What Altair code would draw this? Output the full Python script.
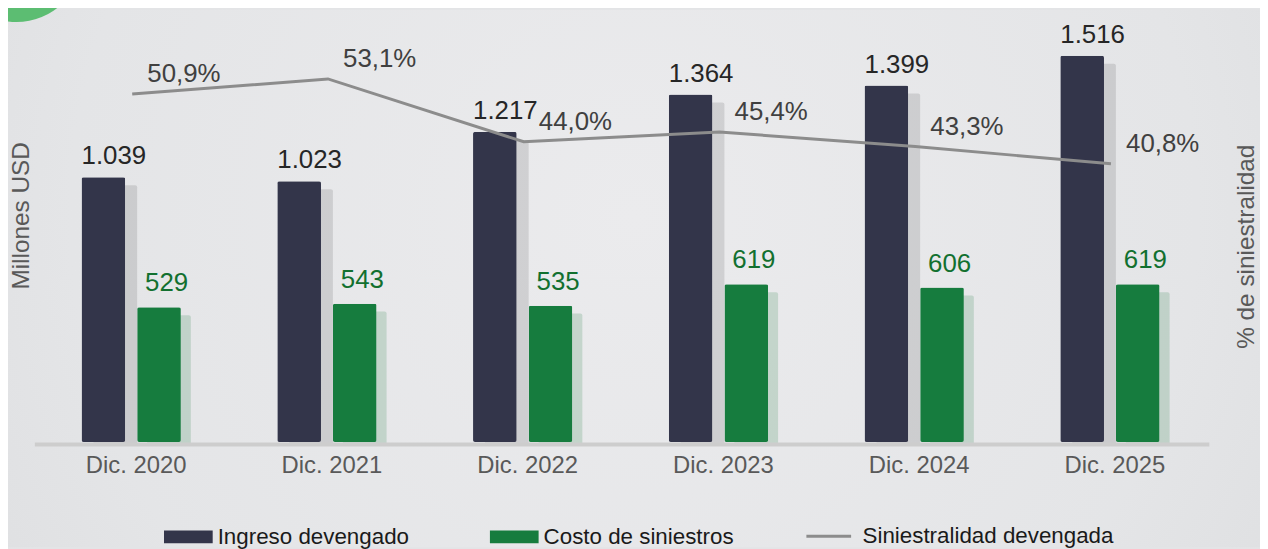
import altair as alt
import pandas as pd

# ---- data ----
periodos = ["Dic. 2020", "Dic. 2021", "Dic. 2022", "Dic. 2023", "Dic. 2024", "Dic. 2025"]
ingreso = [1039, 1023, 1217, 1364, 1399, 1516]
costo = [529, 543, 535, 619, 606, 619]
siniestralidad = [50.9, 53.1, 44.0, 45.4, 43.3, 40.8]

series_barras = ["Ingreso devengado", "Costo de siniestros"]
serie_linea = "Siniestralidad devengada"

df = pd.DataFrame({
    "periodo": periodos,
    "ingreso": ingreso,
    "costo": costo,
    "siniestralidad": siniestralidad,
})
one = pd.DataFrame({"k": [0]})

FONT = "Liberation Sans"
GRAY_TXT = "#595959"

PLOT_W, PLOT_H = 1182, 423
PAD = {"left": 26.5, "top": 12, "right": 51.5, "bottom": 106}

x_enc = alt.X(
    "periodo:N", sort=periodos,
    scale=alt.Scale(paddingInner=0, paddingOuter=0),
    axis=alt.Axis(title=None, labelFontSize=24, labelColor=GRAY_TXT, labelPadding=10,
                  labelOffset=4, ticks=False, domainColor="#cdcdcd", domainWidth=4, offset=2,
                  labelAngle=0, labelFont=FONT, zindex=1),
)


def y_left(field):
    return alt.Y(
        f"{field}:Q",
        scale=alt.Scale(domain=[0, 1650]),
        axis=alt.Axis(title="Millones USD", labels=False, ticks=False, domain=False, grid=False,
                      titleFontSize=24.5, titleColor=GRAY_TXT, titleFontWeight="normal",
                      titleAngle=270, titleX=-13, titleY=195, titleBaseline="middle",
                      titleAlign="center", titleFont=FONT, zindex=1),
    )


color_enc = alt.Color(
    "serie:N",
    scale=alt.Scale(domain=series_barras, range=["#33354a", "#167c3e"]),
    legend=alt.Legend(title=None, orient="none", legendX=130.5, legendY=494,
                      direction="horizontal",
                      symbolType="M-1,-0.265L1,-0.265L1,0.265L-1,0.265Z",
                      symbolSize=2401, symbolStrokeWidth=0, symbolOpacity=1,
                      labelFontSize=22.5, labelColor="#1a1a1a", labelFont=FONT,
                      labelOffset=5, columnPadding=81, labelLimit=400, padding=0),
)

# background & decoration
bg = alt.Chart(one).mark_rect(
    fill=alt.Gradient(
        gradient="radial",
        stops=[alt.GradientStop(color="#ebebed", offset=0),
               alt.GradientStop(color="#e4e5e7", offset=0.6),
               alt.GradientStop(color="#d9dadc", offset=1)],
        x1=0.5, y1=0.45, r1=0, x2=0.5, y2=0.45, r2=0.75,
    )
).encode(x=alt.value(-PAD["left"]), x2=alt.value(PLOT_W + PAD["right"]),
         y=alt.value(-PAD["top"]), y2=alt.value(PLOT_H + PAD["bottom"]))

circle = alt.Chart(one).mark_circle(size=17671, color="#5cbd72", opacity=1).encode(
    x=alt.value(-18), y=alt.value(-66))

base = alt.Chart(df)

sh_ing = base.mark_bar(width=44, xOffset=-17, yOffset=8, y2Offset=4, color="#000000",
                       opacity=0.11, cornerRadius=2).encode(
    x=x_enc, y=y_left("ingreso"), y2=alt.datum(0))
sh_cos = base.mark_bar(width=44, xOffset=37, yOffset=8, y2Offset=4, color="#1a7a3c",
                       opacity=0.18, cornerRadius=2).encode(
    x=x_enc, y=y_left("costo"), y2=alt.datum(0))

bar_ing = base.transform_calculate(serie="'Ingreso devengado'").mark_bar(
    width=44, xOffset=-29, cornerRadius=2).encode(
    x=x_enc, y=y_left("ingreso"), color=color_enc)
bar_cos = base.transform_calculate(serie="'Costo de siniestros'").mark_bar(
    width=44, xOffset=27, cornerRadius=2).encode(
    x=x_enc, y=y_left("costo"), color=color_enc)

lab_ing = base.transform_calculate(
    txt="replace(format(datum.ingreso, ','), ',', '.')"
).mark_text(align="left", baseline="alphabetic", dx=-51, dy=-13, fontSize=26,
            color="#262626", font=FONT).encode(x=x_enc, y=y_left("ingreso"), text="txt:N")
lab_cos = base.transform_calculate(
    txt="replace(format(datum.costo, ','), ',', '.')"
).mark_text(align="left", baseline="alphabetic", dx=13, dy=-16, fontSize=26,
            color="#12702f", font=FONT).encode(x=x_enc, y=y_left("costo"), text="txt:N")

left_group = alt.layer(bg, circle, sh_ing, sh_cos, bar_ing, bar_cos, lab_ing, lab_cos)

y_right = alt.Y(
    "siniestralidad:Q",
    scale=alt.Scale(domain=[0.5, 61.4]),
    axis=alt.Axis(orient="right", title="% de siniestralidad", labels=False, ticks=False,
                  domain=False, grid=False, titleFontSize=24.5, titleColor=GRAY_TXT,
                  titleFontWeight="normal", titleAngle=270, titleX=38, titleY=226,
                  titleBaseline="middle", titleAlign="center", titleFont=FONT, zindex=1),
)

line = base.transform_calculate(serie=f"'{serie_linea}'").mark_line(strokeWidth=3).encode(
    x=x_enc, y=y_right,
    stroke=alt.Stroke(
        "serie:N",
        scale=alt.Scale(domain=[serie_linea], range=["#8c8c8c"]),
        legend=alt.Legend(title=None, orient="none", legendX=775.5, legendY=494,
                          symbolType="stroke", symbolSize=2025, symbolStrokeWidth=3,
                          labelFontSize=22.5, labelColor="#1a1a1a", labelFont=FONT,
                          labelOffset=10, labelLimit=400, padding=0),
    ),
)

lab_pct = base.transform_calculate(
    txt="replace(format(datum.siniestralidad, '.1f'), '.', ',') + '%'"
).mark_text(align="center", baseline="middle", dx=52, dy=-20, fontSize=26,
            color="#404040", font=FONT).encode(x=x_enc, y=y_right, text="txt:N")

right_group = alt.layer(line, lab_pct)

chart = alt.layer(left_group, right_group).resolve_scale(
    y="independent"
).properties(
    width=PLOT_W, height=PLOT_H, padding=PAD,
    autosize=alt.AutoSizeParams(type="none"),
    background="#e3e4e6",
).configure(font=FONT).configure_view(strokeWidth=0)

chart.save("out.html", embed_options={"renderer": "svg", "actions": False})
